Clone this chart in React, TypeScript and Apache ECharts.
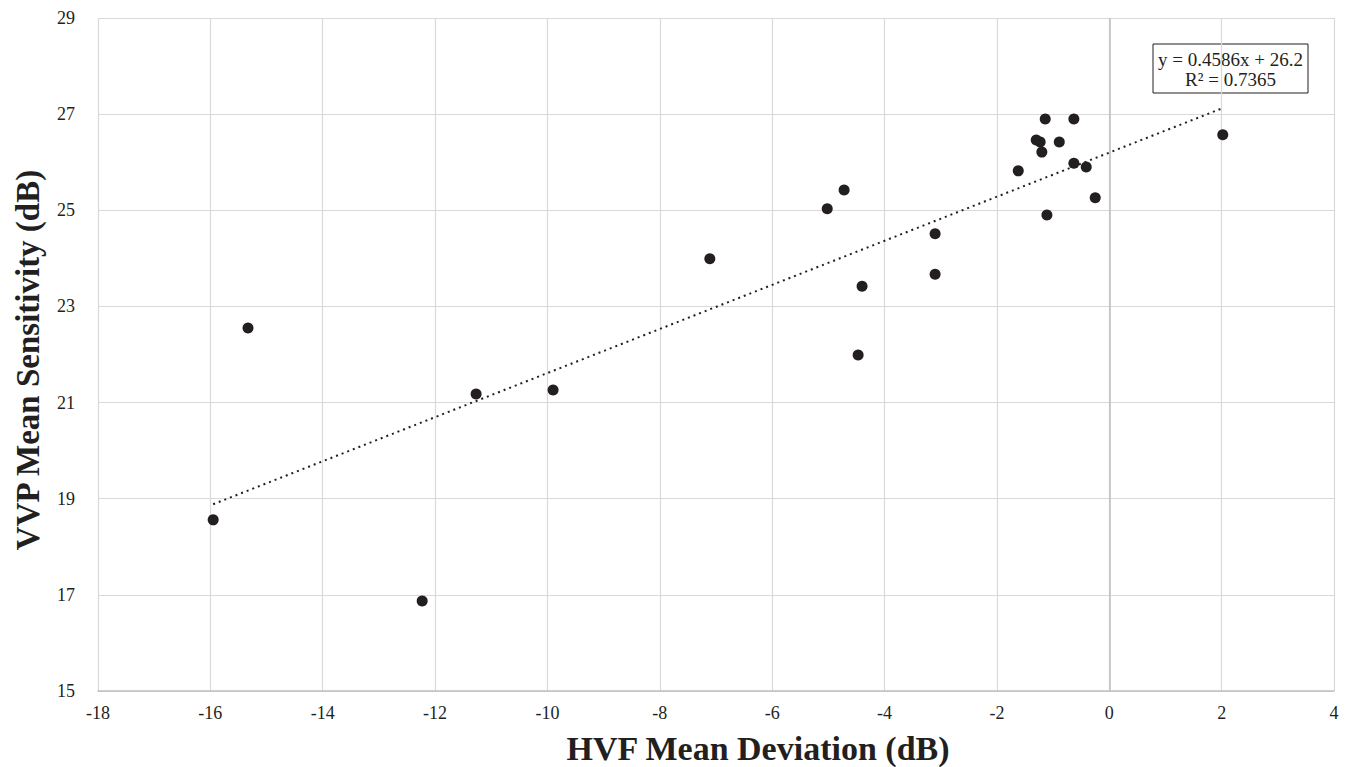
import React, { useEffect, useRef } from "react";
import * as echarts from "echarts";

const hvfMD: number[] = [
  -15.95, -15.33, -12.23, -11.27, -9.9, -7.11, -5.02, -4.72, -4.47, -4.4, -3.1, -3.1,
  -1.62, -1.3, -1.23, -1.2, -1.14, -1.11, -0.89, -0.63, -0.63, -0.41, -0.25, 2.02,
];
const vvpMS: number[] = [
  18.56, 22.55, 16.87, 21.18, 21.26, 23.99, 25.03, 25.42, 21.99, 23.42, 24.51, 23.67,
  25.82, 26.46, 26.42, 26.21, 26.9, 24.9, 26.42, 26.9, 25.98, 25.9, 25.26, 26.57,
];
const slope = 0.4586;
const intercept = 26.2;
const equationLines: string[] = ["y = 0.4586x + 26.2", "R\u00b2 = 0.7365"];
const xTitle = "HVF Mean Deviation (dB)";
const yTitle = "VVP Mean Sensitivity (dB)";

const FONT = "Liberation Serif, Times New Roman, serif";
const INK = "#231f20";

export default function App() {
  const ref = useRef<HTMLDivElement>(null);
  useEffect(() => {
    if (!ref.current) return;
    const chart = echarts.init(ref.current, undefined, { renderer: "svg" });
    const pts = hvfMD.map((x, i) => [x, vvpMS[i]]);
    const xMin = Math.min(...hvfMD);
    const xMax = Math.max(...hvfMD);
    const trend = [
      [xMin, slope * xMin + intercept],
      [xMax, slope * xMax + intercept],
    ];
    chart.setOption({
      animation: false,
      backgroundColor: "#ffffff",
      textStyle: { fontFamily: FONT },
      grid: { left: 98, right: 19, top: 18, bottom: 76, outerBoundsMode: "none", containLabel: false },
      xAxis: {
        type: "value",
        min: -18,
        max: 4,
        interval: 2,
        axisLine: { show: true, onZero: false, lineStyle: { color: "#bfbfbf", width: 1.5 } },
        axisTick: { show: false },
        splitLine: { show: true, lineStyle: { color: "#d9d9d9", width: 1.2 } },
        axisLabel: { fontFamily: FONT, fontSize: 18, color: INK, margin: 13 },
      },
      yAxis: {
        type: "value",
        min: 15,
        max: 29,
        interval: 2,
        axisLine: { show: false },
        axisTick: { show: false },
        splitLine: { show: true, lineStyle: { color: "#d9d9d9", width: 1.2 } },
        axisLabel: { fontFamily: FONT, fontSize: 18, color: INK, margin: 23 },
      },
      series: [
        {
          type: "line",
          data: trend,
          symbol: "none",
          lineStyle: { color: INK, width: 2, type: [2, 4] },
          silent: true,
          z: 3,
        },
        {
          type: "scatter",
          data: pts,
          symbol: "circle",
          symbolSize: 11,
          itemStyle: { color: INK, opacity: 1 },
          z: 4,
          markLine: {
            silent: true,
            symbol: "none",
            label: { show: false },
            lineStyle: { color: "#bfbfbf", width: 1.5, type: "solid" },
            data: [{ xAxis: 0 }],
          },
        },
      ],
      graphic: [
        {
          type: "text",
          x: 758,
          y: 748,
          style: {
            text: xTitle,
            font: `bold 34px ${FONT}`,
            fill: INK,
            align: "center",
            verticalAlign: "middle",
          },
        },
        {
          type: "text",
          x: 28,
          y: 360,
          rotation: Math.PI / 2,
          style: {
            text: yTitle,
            font: `bold 33px ${FONT}`,
            fill: INK,
            align: "center",
            verticalAlign: "middle",
          },
        },
        {
          type: "group",
          x: 1153,
          y: 44,
          children: [
            {
              type: "rect",
              shape: { x: 0, y: 0, width: 155, height: 49 },
              style: { fill: "#ffffff", stroke: INK, lineWidth: 1 },
            },
            {
              type: "text",
              x: 77.5,
              y: 15,
              style: {
                text: equationLines[0],
                font: `19px ${FONT}`,
                fill: INK,
                align: "center",
                verticalAlign: "middle",
              },
            },
            {
              type: "text",
              x: 77.5,
              y: 35,
              style: {
                text: equationLines[1],
                font: `19px ${FONT}`,
                fill: INK,
                align: "center",
                verticalAlign: "middle",
              },
            },
          ],
        },
      ],
    });
    return () => chart.dispose();
  }, []);
  return (
    <div
      ref={ref}
      style={{ position: "fixed", left: 0, top: 0, width: 1353, height: 767, background: "#fff" }}
    />
  );
}
